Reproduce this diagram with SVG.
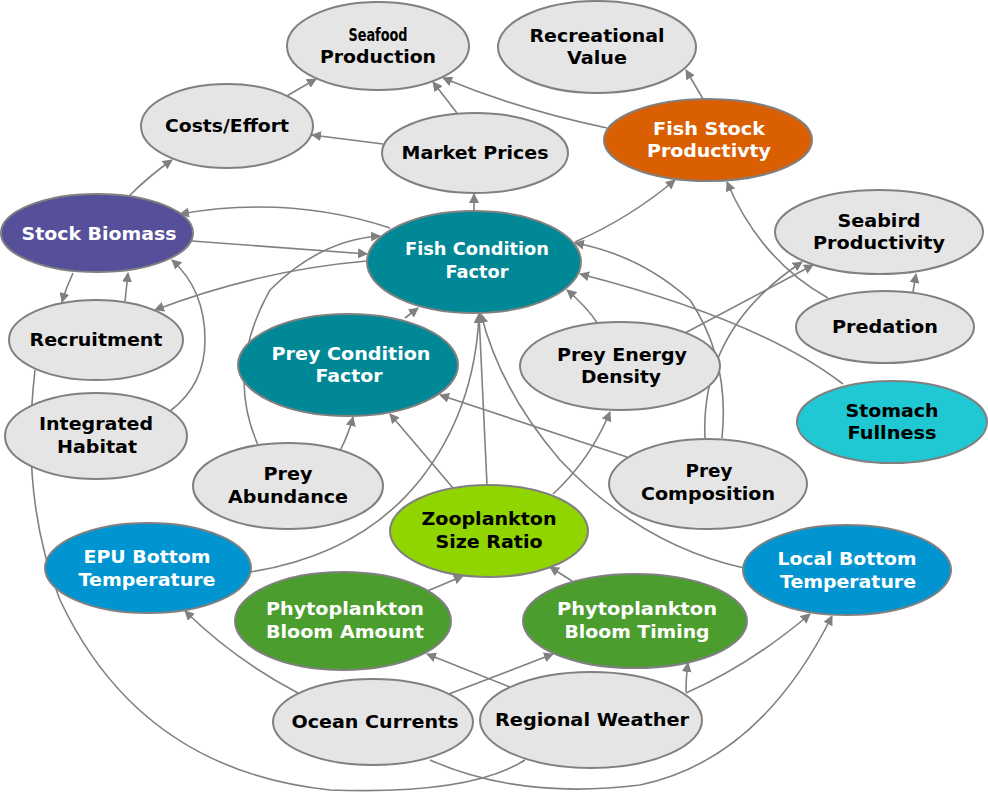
<svg xmlns="http://www.w3.org/2000/svg" width="988" height="792" viewBox="0 0 988 792">
<defs>
<marker id="a" viewBox="0 0 10 10" refX="9" refY="5" markerWidth="10" markerHeight="10" markerUnits="userSpaceOnUse" orient="auto"><path d="M0,0 L10,5 L0,10 z" fill="#808080"/></marker>
<style>
ellipse{stroke:#808080;stroke-width:2}
.g{fill:#e5e5e5}
text{font-family:"DejaVu Sans","Liberation Sans",sans-serif;font-weight:bold;font-size:17px;text-anchor:middle}
.w{fill:#fff}
#edges path{fill:none;stroke:#808080;stroke-width:1.6;marker-end:url(#a)}
#edges path.n{marker-end:none}
</style>
</defs>
<rect width="988" height="792" fill="#fff"/>
<g id="edges">
<path d="M285,97 L316,79"/>
<path d="M457,113 L433,82"/>
<path d="M383,144 L312,135"/>
<path d="M607,128 Q520,110 443,78"/>
<path d="M703,99 L686,70"/>
<path d="M474,211 L474,194"/>
<path d="M128,197 Q150,175 172,160"/>
<path d="M390,228 Q290,195 180,214"/>
<path d="M192,241 L367,254"/>
<path d="M367,261 Q260,270 155,310"/>
<path d="M258,445 Q225,370 270,290 Q320,240 380,236"/>
<path d="M73,273 Q66,288 62,302"/>
<path d="M125,301 L128,273"/>
<path d="M170,411 Q205,385 205,340 Q205,290 172,260"/>
<path class="n" d="M35,370 Q20,500 60,600 Q140,770 330,790 Q470,795 525,760"/>
<path d="M430,760 Q520,800 640,785 Q760,760 832,616"/>
<path d="M405,318 L418,308"/>
<path d="M487,485 L479,314"/>
<path d="M250,572 Q360,555 420,480 Q475,410 479,314"/>
<path d="M744,568 Q640,545 560,460 Q500,390 481,314"/>
<path d="M575,242 Q630,218 675,180"/>
<path d="M722,438 Q730,360 690,300 Q640,255 575,243"/>
<path d="M843,384 Q760,320 580,274"/>
<path d="M598,324 Q587,307 567,290"/>
<path d="M828,298 Q760,260 727,182"/>
<path d="M913,292 L916,274"/>
<path d="M685,333 L813,265"/>
<path d="M705,438 Q700,330 802,262"/>
<path d="M627,457 L440,395"/>
<path d="M553,494 Q590,460 610,412"/>
<path d="M453,488 L390,414"/>
<path d="M340,451 Q349,433 353,417"/>
<path d="M413,597 L463,576"/>
<path d="M572,581 L550,567"/>
<path d="M298,693 Q235,660 185,611"/>
<path d="M449,694 L553,654"/>
<path d="M510,687 L427,654"/>
<path d="M686,692 Q686,676 688,663"/>
<path d="M686,693 Q750,665 810,614"/>
</g>
<g id="n1"><ellipse class="g" cx="378" cy="46" rx="91" ry="44"/><text x="378" y="41" textLength="59" lengthAdjust="spacingAndGlyphs">Seafood</text><text x="378" y="63" textLength="116" lengthAdjust="spacingAndGlyphs">Production</text></g>
<g id="n2"><ellipse class="g" cx="597" cy="47" rx="99" ry="46"/><text x="597" y="42" textLength="135" lengthAdjust="spacingAndGlyphs">Recreational</text><text x="597" y="64" textLength="60" lengthAdjust="spacingAndGlyphs">Value</text></g>
<g id="n3"><ellipse class="g" cx="227" cy="126" rx="86" ry="42"/><text x="227" y="132" textLength="124" lengthAdjust="spacingAndGlyphs">Costs/Effort</text></g>
<g id="n4"><ellipse class="g" cx="475" cy="153" rx="93" ry="40"/><text x="475" y="159" textLength="147" lengthAdjust="spacingAndGlyphs">Market Prices</text></g>
<g id="n5"><ellipse cx="708" cy="140" rx="104" ry="41" fill="#d95f02"/><text class="w" x="709" y="135" textLength="112" lengthAdjust="spacingAndGlyphs">Fish Stock</text><text class="w" x="709" y="157" textLength="124" lengthAdjust="spacingAndGlyphs">Productivty</text></g>
<g id="n6"><ellipse cx="97" cy="233" rx="96" ry="39" fill="#56509a"/><text class="w" x="99" y="240" textLength="155" lengthAdjust="spacingAndGlyphs">Stock Biomass</text></g>
<g id="n7"><ellipse cx="474" cy="262" rx="107" ry="51" fill="#008896"/><text class="w" x="477" y="255" textLength="144" lengthAdjust="spacingAndGlyphs">Fish Condition</text><text class="w" x="477" y="278" textLength="63" lengthAdjust="spacingAndGlyphs">Factor</text></g>
<g id="n8"><ellipse class="g" cx="879" cy="232" rx="104" ry="42"/><text x="879" y="227" textLength="83" lengthAdjust="spacingAndGlyphs">Seabird</text><text x="879" y="249" textLength="132" lengthAdjust="spacingAndGlyphs">Productivity</text></g>
<g id="n9"><ellipse class="g" cx="96" cy="340" rx="87" ry="40"/><text x="96" y="346" textLength="133" lengthAdjust="spacingAndGlyphs">Recruitment</text></g>
<g id="n10"><ellipse class="g" cx="885" cy="327" rx="89" ry="36"/><text x="885" y="333" textLength="106" lengthAdjust="spacingAndGlyphs">Predation</text></g>
<g id="n11"><ellipse cx="348" cy="365" rx="110" ry="51" fill="#008896"/><text class="w" x="351" y="360" textLength="159" lengthAdjust="spacingAndGlyphs">Prey Condition</text><text class="w" x="349" y="382" textLength="67" lengthAdjust="spacingAndGlyphs">Factor</text></g>
<g id="n12"><ellipse class="g" cx="620" cy="366" rx="100" ry="44"/><text x="622" y="361" textLength="130" lengthAdjust="spacingAndGlyphs">Prey Energy</text><text x="621" y="383" textLength="80" lengthAdjust="spacingAndGlyphs">Density</text></g>
<g id="n13"><ellipse cx="892" cy="422" rx="95" ry="41" fill="#1fc8d2"/><text x="892" y="417" textLength="93" lengthAdjust="spacingAndGlyphs">Stomach</text><text x="892" y="439" textLength="89" lengthAdjust="spacingAndGlyphs">Fullness</text></g>
<g id="n14"><ellipse class="g" cx="96" cy="436" rx="91" ry="43"/><text x="96" y="430" textLength="114" lengthAdjust="spacingAndGlyphs">Integrated</text><text x="97" y="453" textLength="80" lengthAdjust="spacingAndGlyphs">Habitat</text></g>
<g id="n15"><ellipse class="g" cx="288" cy="486" rx="95" ry="43"/><text x="288" y="480" textLength="49" lengthAdjust="spacingAndGlyphs">Prey</text><text x="288" y="503" textLength="120" lengthAdjust="spacingAndGlyphs">Abundance</text></g>
<g id="n16"><ellipse class="g" cx="708" cy="484" rx="99" ry="45"/><text x="709" y="477" textLength="47" lengthAdjust="spacingAndGlyphs">Prey</text><text x="708" y="500" textLength="134" lengthAdjust="spacingAndGlyphs">Composition</text></g>
<g id="n17"><ellipse cx="489" cy="531" rx="99" ry="46" fill="#90d400"/><text x="489" y="525" textLength="135" lengthAdjust="spacingAndGlyphs">Zooplankton</text><text x="489" y="548" textLength="107" lengthAdjust="spacingAndGlyphs">Size Ratio</text></g>
<g id="n18"><ellipse cx="148" cy="568" rx="103" ry="45" fill="#0095d0"/><text class="w" x="147" y="563" textLength="127" lengthAdjust="spacingAndGlyphs">EPU Bottom</text><text class="w" x="147" y="586" textLength="137" lengthAdjust="spacingAndGlyphs">Temperature</text></g>
<g id="n19"><ellipse cx="847" cy="570" rx="104" ry="45" fill="#0095d0"/><text class="w" x="847" y="565" textLength="139" lengthAdjust="spacingAndGlyphs">Local Bottom</text><text class="w" x="848" y="588" textLength="136" lengthAdjust="spacingAndGlyphs">Temperature</text></g>
<g id="n20"><ellipse cx="343" cy="621" rx="108" ry="49" fill="#4b9e2d"/><text class="w" x="345" y="615" textLength="158" lengthAdjust="spacingAndGlyphs">Phytoplankton</text><text class="w" x="345" y="638" textLength="158" lengthAdjust="spacingAndGlyphs">Bloom Amount</text></g>
<g id="n21"><ellipse cx="635" cy="621" rx="112" ry="47" fill="#4b9e2d"/><text class="w" x="637" y="615" textLength="160" lengthAdjust="spacingAndGlyphs">Phytoplankton</text><text class="w" x="637" y="638" textLength="145" lengthAdjust="spacingAndGlyphs">Bloom Timing</text></g>
<g id="n22"><ellipse class="g" cx="373" cy="722" rx="100" ry="43"/><text x="375" y="728" textLength="167" lengthAdjust="spacingAndGlyphs">Ocean Currents</text></g>
<g id="n23"><ellipse class="g" cx="591" cy="720" rx="111" ry="48"/><text x="592" y="726" textLength="194" lengthAdjust="spacingAndGlyphs">Regional Weather</text></g>
</svg>
